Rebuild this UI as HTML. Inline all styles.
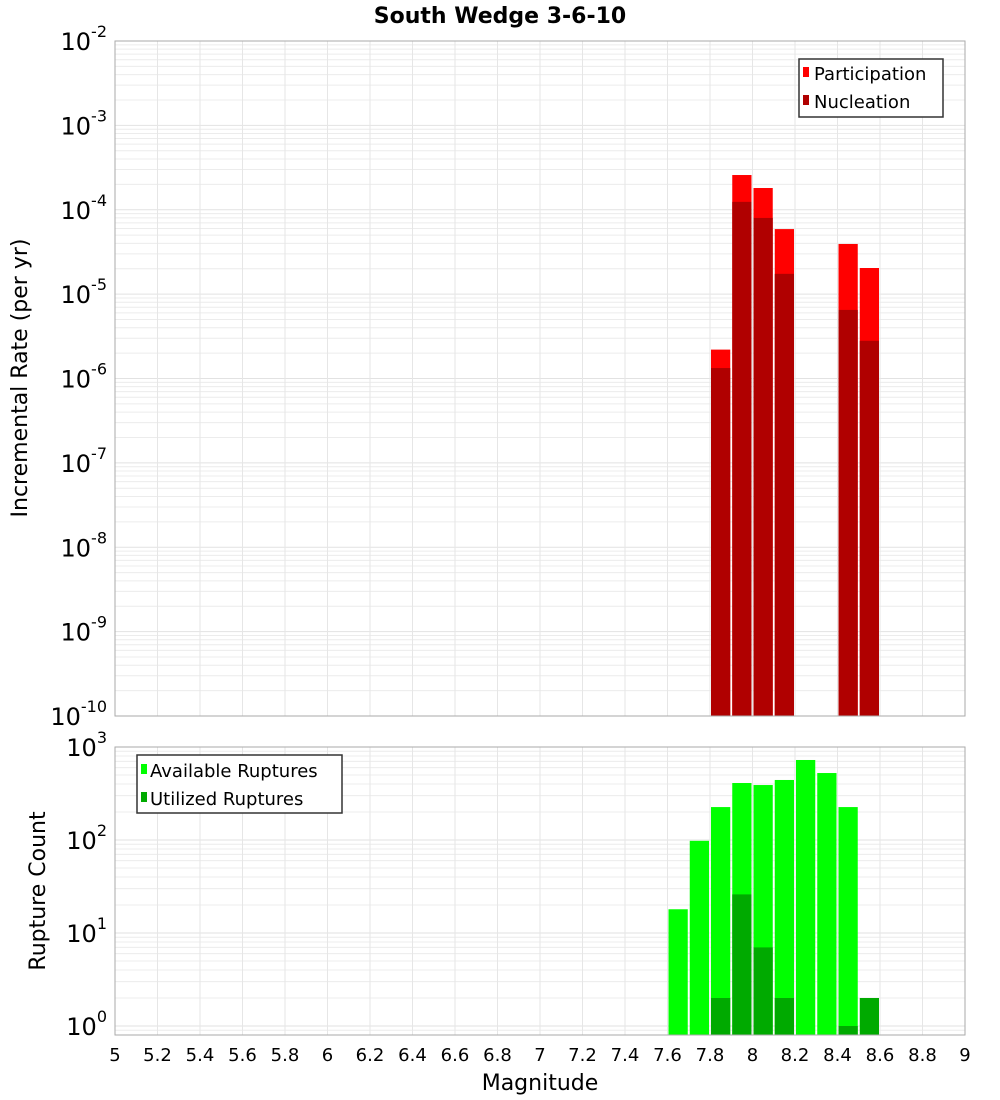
<!DOCTYPE html>
<html><head><meta charset="utf-8"><style>
body{margin:0;background:#fff}
svg{display:block;font-family:"DejaVu Sans","Liberation Sans",sans-serif}
</style></head><body>
<svg id="c" width="1000" height="1100" xmlns="http://www.w3.org/2000/svg">
<text x="500" y="23" text-anchor="middle" font-size="22" font-weight="bold">South Wedge 3-6-10</text>
<g id="top"></g>
<g id="bot"></g>
<text transform="translate(27,378) rotate(-90)" text-anchor="middle" font-size="22">Incremental Rate (per yr)</text>
<text transform="translate(45,891) rotate(-90)" text-anchor="middle" font-size="22">Rupture Count</text>
<text x="540" y="1090" text-anchor="middle" font-size="22">Magnitude</text>
<g>
<rect x="799" y="59" width="144" height="58" fill="#fff" stroke="#333" stroke-width="1.5"/>
<rect x="803" y="67" width="6" height="10" fill="#ff0000"/>
<text x="814" y="80" font-size="18">Participation</text>
<rect x="803" y="95" width="6" height="10" fill="#b00000"/>
<text x="814" y="108" font-size="18">Nucleation</text>
</g>
<g>
<rect x="137" y="755" width="205" height="58" fill="#fff" stroke="#333" stroke-width="1.5"/>
<rect x="141" y="764" width="6" height="10" fill="#00ff00"/>
<text x="150" y="777" font-size="18">Available Ruptures</text>
<rect x="141" y="792" width="6" height="10" fill="#00aa00"/>
<text x="150" y="805" font-size="18">Utilized Ruptures</text>
</g>
</svg>
<script>
const xTicks=[5,5.2,5.4,5.6,5.8,6,6.2,6.4,6.6,6.8,7,7.2,7.4,7.6,7.8,8,8.2,8.4,8.6,8.8,9];
const rateMags=[7.8,7.9,8.0,8.1,8.4,8.5];
const participation=[2.2e-6,2.58e-4,1.81e-4,5.9e-5,3.93e-5,2.04e-5];
const nucleation=[1.33e-6,1.24e-4,8.0e-5,1.74e-5,6.5e-6,2.8e-6];
const countMags=[7.6,7.7,7.8,7.9,8.0,8.1,8.2,8.3,8.4,8.5];
const available=[18,98,226,410,390,442,725,525,226,0];
const utilized=[0,0,2,26,7,2,0,0,1,2];
const rateExps=[-10,-9,-8,-7,-6,-5,-4,-3,-2];
const countExps=[0,1,2,3];

const NS='http://www.w3.org/2000/svg';
const X0=115,X1=965;
const xs=m=>X0+(m-5)/4*(X1-X0);
function mk(p,t,a){const e=document.createElementNS(NS,t);for(const k in a)e.setAttribute(k,a[k]);p.appendChild(e);return e;}
function plot(g,top,bot,lo,hi){ // log range lo..hi exponents at top..bot
  const ys=v=>top+(hi-Math.log10(v))/(hi-lo)*(bot-top);
  return ys;
}
// top plot
const gt=document.getElementById('top');
const T0=41,T1=716;
const yR=v=>T0+(-2-Math.log10(v))/8*(T1-T0);
// bottom plot
const gb=document.getElementById('bot');
const B0=747,B1=1035,BDec=93;
const yC=v=>B0+(3-Math.log10(v))*BDec;
function grid(g,y0,y1,yf,eLo,eHi){
  for(let e=eLo;e<eHi+1;e++)for(let k=1;k<10;k++){const v=k*Math.pow(10,e);const y=yf(v);if(y<y0-0.5||y>y1+0.5)continue;
    const l=mk(g,'line',{x1:X0,x2:X1,y1:y,y2:y,stroke:k==1?'#e2e2e2':'#ececec','stroke-width':1});
    }
  xTicks.forEach(m=>{const l=mk(g,'line',{x1:xs(m),x2:xs(m),y1:y0,y2:y1,stroke:'#e6e6e6','stroke-width':1});
    });
}
grid(gt,T0,T1,yR,-10,-3);
grid(gb,B0,B1,yC,-1,2);
const bw=(xs(5.1)-xs(5))-2;
// rate bars
rateMags.forEach((m,i)=>{
  let r=mk(gt,'rect',{x:xs(m)+1,y:yR(participation[i]),width:bw,height:T1-yR(participation[i]),fill:'#ff0000'});
  
  r=mk(gt,'rect',{x:xs(m)+1,y:yR(nucleation[i]),width:bw,height:T1-yR(nucleation[i]),fill:'#b00000'});
  
});
countMags.forEach((m,i)=>{
  if(available[i]>0){const y=Math.max(B0,yC(available[i]));
    const r=mk(gb,'rect',{x:xs(m)+1,y:y,width:bw,height:B1-y,fill:'#00ff00'});
    }
  if(utilized[i]>0){const y=yC(utilized[i]);
    const r=mk(gb,'rect',{x:xs(m)+1,y:y,width:bw,height:B1-y,fill:'#00aa00'});
    }
});
// frames
[[T0,T1,gt],[B0,B1,gb]].forEach(([a,b,g])=>{const f=mk(g,'rect',{x:X0,y:a,width:X1-X0,height:b-a,fill:'none',stroke:'#aaa','stroke-width':1});
  });
// y tick labels
function ylab(g,y,e,nm){const t=mk(g,'text',{x:107,y:y+9,'text-anchor':'end','font-size':24});
  
  t.textContent='10';const s=mk(t,'tspan',{dy:-13,'font-size':16});s.textContent=String(e);}
rateExps.forEach(e=>ylab(gt,yR(Math.pow(10,e)),e,'y-tick-rate'));
countExps.forEach(e=>ylab(gb,yC(Math.pow(10,e)),e,'y-tick-count'));
// x tick labels
xTicks.forEach(m=>{const t=mk(gb,'text',{x:xs(m),y:1061,'text-anchor':'middle','font-size':18});
  
  t.textContent=String(+m.toFixed(1));});
</script>
</body></html>
